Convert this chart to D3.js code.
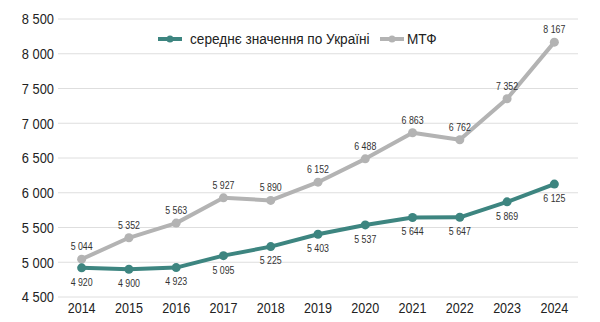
<!DOCTYPE html>
<html><head><meta charset="utf-8">
<script src="https://cdn.jsdelivr.net/npm/d3@7"></script>
<style>
body{margin:0;background:#fff;}
svg{display:block;font-family:"Liberation Sans","Arial",sans-serif;}
</style></head><body>
<svg id="c" width="600" height="322"></svg>
<script>
const years = ["2014","2015","2016","2017","2018","2019","2020","2021","2022","2023","2024"];
const ukraineAvg = [4920,4900,4923,5095,5225,5403,5537,5644,5647,5869,6125];
const mtf = [5044,5352,5563,5927,5890,6152,6488,6863,6762,7352,8167];
const yTicks = [4500,5000,5500,6000,6500,7000,7500,8000,8500];
const seriesNames = ["середнє значення по Україні","МТФ"];
const colors = ["#3d8580","#b3b3b3"];

(function(){
const svg = d3.select("#c");
const mLeft = 58, mRight = 578, mTop = 19, mBottom = 297;
const x = d3.scalePoint().domain(years).range([mLeft,mRight]).padding(0.5);
const y = d3.scaleLinear().domain([4500,8500]).range([mBottom,mTop]);
const fmt = v => d3.format(",")(v).replace(/,/g," ");

function ctext(sel, px, py, anchor, size, fill, sx){
  return sel.append("g").attr("transform", d => `translate(${px(d)},${py(d)}) scale(${sx},1)`)
    .append("text").attr("text-anchor",anchor).attr("dy","0.35em")
    .attr("font-size",size).attr("fill",fill);
}

svg.append("g").selectAll("line").data(yTicks).join("line")
  .attr("x1",mLeft).attr("x2",mRight)
  .attr("y1",d=>y(d)).attr("y2",d=>y(d))
  .attr("stroke","#dedede").attr("stroke-width",1);

{
  const sel = svg.append("g").selectAll("g").data(yTicks).enter();
  ctext(sel, d=>54, d=>y(d), "end", 15.5, "#222", 0.83).text(fmt);
}
{
  const sel = svg.append("g").selectAll("g").data(years).enter();
  ctext(sel, d=>x(d), d=>308, "middle", 15.5, "#222", 0.81).text(d=>d);
}

const series = [ukraineAvg, mtf];
const line = d3.line().x((d,i)=>x(years[i])).y(d=>y(d));
[1,0].forEach(s=>{
  const g = svg.append("g");
  g.append("path").datum(series[s]).attr("d",line)
    .attr("fill","none").attr("stroke",colors[s]).attr("stroke-width",4)
    .attr("stroke-linejoin","round");
  g.selectAll("circle").data(series[s]).join("circle")
    .attr("cx",(d,i)=>x(years[i])).attr("cy",d=>y(d)).attr("r",4.5)
    .attr("fill",colors[s]);
  const sel = g.append("g").selectAll("g").data(series[s].map((v,i)=>({v,i}))).enter();
  ctext(sel, d=>x(years[d.i]), d=> s===1 ? y(d.v)-13 : y(d.v)+14, "middle", 11, "#333", 0.8)
    .text(d=>fmt(d.v));
});

const lg = svg.append("g");
const legendItems = [{x:158,tx:190},{x:380,tx:407}];
legendItems.forEach((L,i)=>{
  lg.append("line").attr("x1",L.x).attr("x2",L.x+24).attr("y1",39).attr("y2",39)
    .attr("stroke",colors[i]).attr("stroke-width",4);
  lg.append("circle").attr("cx",L.x+12).attr("cy",39).attr("r",3.5).attr("fill",colors[i]);
  lg.append("g").attr("transform",`translate(${L.tx},39) scale(0.88,1)`)
    .append("text").attr("dy","0.35em")
    .attr("font-size",15.5).attr("fill","#222").text(seriesNames[i]);
});
})();
</script>
</body></html>
